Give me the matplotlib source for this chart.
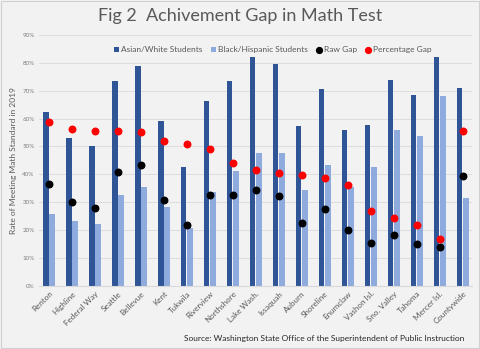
import matplotlib.pyplot as plt
import numpy as np
from matplotlib.patches import Rectangle

districts = ["Renton", "Highline", "Federal Way", "Seattle", "Bellevue", "Kent", "Tukwila",
             "Riverview", "Northshore", "Lake Wash.", "Issaquah", "Auburn", "Shoreline",
             "Enumclaw", "Vashon Isl.", "Sno. Valley", "Tahoma", "Mercer Isl.", "Countywide"]
asian_white = [62.4, 53.1, 50.2, 73.5, 78.8, 59.0, 42.5, 66.2, 73.5, 81.9, 79.6,
               57.3, 70.6, 55.8, 57.7, 73.8, 68.6, 81.9, 71.0]
black_hisp = [25.7, 23.2, 22.1, 32.5, 35.4, 28.2, 20.7, 33.8, 41.1, 47.7, 47.5,
              34.5, 43.4, 35.6, 42.5, 55.8, 53.7, 68.2, 31.4]
raw_gap = [36.7, 30.0, 28.0, 41.0, 43.4, 30.7, 21.7, 32.5, 32.5, 34.3, 32.3,
           22.7, 27.4, 20.2, 15.5, 18.2, 15.0, 13.9, 39.5]
pct_gap = [58.6, 56.2, 55.7, 55.7, 55.1, 51.9, 51.0, 48.9, 44.2, 41.7, 40.5,
           39.6, 38.6, 36.1, 26.7, 24.5, 21.8, 16.9, 55.6]
y_ticks = [0, 10, 20, 30, 40, 50, 60, 70, 80, 90]

plt.rcParams['font.family'] = ['Lato', 'DejaVu Sans']
bg = '#f2f2f2'
fig = plt.figure(figsize=(4.8, 3.49), dpi=100, facecolor=bg)
fig.patches.append(Rectangle((0.002, 0.003), 0.996, 0.994, transform=fig.transFigure,
                             fill=False, edgecolor='#d0d0d0', lw=0.8))
ax = fig.add_axes([0.081, 0.181, 0.902, 0.719], facecolor=bg)

x = np.arange(len(districts))
w = 0.25
b1 = ax.bar(x - 0.135, asian_white, w, color='#2f5597', label='Asian/White Students', zorder=2)
b2 = ax.bar(x + 0.135, black_hisp, w, color='#8faadc', label='Black/Hispanic Students', zorder=2)
s1 = ax.scatter(x, raw_gap, s=22, color='black', label='Raw Gap', zorder=3)
s2 = ax.scatter(x, pct_gap, s=22, color='#ff0000', label='Percentage Gap', zorder=3)

ax.set_ylim(0, 90)
ax.set_xlim(-0.43, 18.4)
ax.set_yticks(y_ticks)
ax.set_yticklabels([f"{v}%" for v in y_ticks], fontsize=4.5, color='#7f7f7f')
ax.set_xticks(x)
ax.set_xticklabels(districts, rotation=45, ha='right', rotation_mode='anchor',
                   fontsize=5.8, color='#595959')
ax.tick_params(length=0, pad=3)
ax.grid(axis='y', color='#d9d9d9', lw=0.6, zorder=0)
for s in ['top', 'right', 'left']:
    ax.spines[s].set_visible(False)
ax.spines['bottom'].set_color('#d9d9d9')
ax.set_ylabel("Rate of Meeting Math Standard in 2019", fontsize=6, color='#595959', labelpad=4)

ax.legend(handles=[b1, b2, s1, s2], loc='upper center', bbox_to_anchor=(0.54, 0.985), ncol=4,
          frameon=False, fontsize=6, labelcolor='#595959', handlelength=0.6, handleheight=0.6,
          handletextpad=0.3, columnspacing=1.0, markerscale=0.9)

fig.text(0.5, 0.955, "Fig 2  Achivement Gap in Math Test", ha='center', va='center',
         fontsize=13, color='#595959')
fig.text(0.968, 0.03, "Source: Washington State Office of the Superintendent of Public Instruction",
         ha='right', va='center', fontsize=6, color='#262626')

fig.savefig('out.png', dpi=100, facecolor=bg)
